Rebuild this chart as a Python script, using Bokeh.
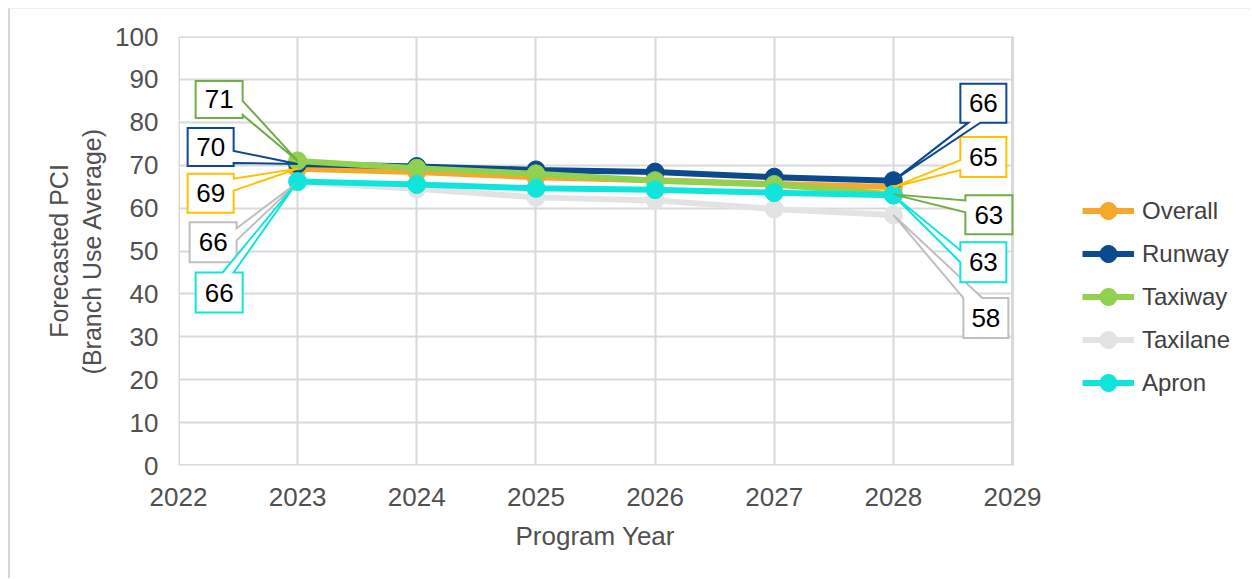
from bokeh.plotting import figure
from bokeh.models import Legend, LegendItem, Range1d, FixedTicker, Title
from bokeh.embed import file_html
from bokeh.resources import INLINE
from bokeh.core.properties import value

# ---------------- data ----------------
years = [2023, 2024, 2025, 2026, 2027, 2028]
overall = [69.2, 68.4, 67.2, 66.5, 65.6, 64.9]
runway = [70.3, 69.7, 68.9, 68.4, 67.2, 66.4]
taxiway = [71.0, 69.3, 68.0, 66.4, 65.5, 63.2]
taxilane = [66.0, 64.5, 62.5, 61.8, 59.8, 58.4]
apron = [66.2, 65.5, 64.6, 64.3, 63.6, 63.0]

series_names = ["Overall", "Runway", "Taxiway", "Taxilane", "Apron"]
series_values = [overall, runway, taxiway, taxilane, apron]
x_ticks = [2022, 2023, 2024, 2025, 2026, 2027, 2028, 2029]
y_ticks = [0, 10, 20, 30, 40, 50, 60, 70, 80, 90, 100]
x_title = "Program Year"
y_title = "Forecasted PCI\n(Branch Use Average)"

# ---------------- styles ----------------
line_colors = ["#F5A82B", "#0B4A8E", "#92D050", "#E3E3E3", "#10E5DC"]
label_colors = ["#FFC000", "#0B4A8E", "#70AD47", "#BFBFBF", "#10E5DC"]
FONT = "Liberation Sans"
GRID = "#d9d9d9"

# callout geometry in screen px relative to the labelled point:
# (box x0, x1, y0, y1 ; wedge side ; wedge a, b)  -- screen y grows downward
first_callouts = {
    "Overall": (-110, -64, 5, 44, "right", 10, 22),
    "Runway": (-110, -64, -36, 2, "right", -13, -1),
    "Taxiway": (-102, -55, -80, -43, "right", -60, -46),
    "Taxilane": (-108, -61, 40, 80, "right", 46, 58),
    "Apron": (-102, -55, 91, 131, "top", -75, -64),
}
last_callouts = {
    "Overall": (67, 113, -50, -10, "left", -27, -17),
    "Runway": (67, 113, -97, -58, "bottom", 75, 87),
    "Taxiway": (72, 119, 1, 40, "left", 6, 18),
    "Taxilane": (70, 115, 83, 123, "top", 70, 89),
    "Apron": (67, 113, 47, 87, "left", 55, 67),
}

W, H = 1242, 570
ML, MT = 10, 9  # page offset of the canvas (margin + border)
PLOT_L, PLOT_R, PLOT_T, PLOT_B = 178, 1012, 36, 465   # chart plot area (page px)
FRAME_R = 1244                                         # drawing frame extends under legend
X0, X1, Y0, Y1 = x_ticks[0], x_ticks[-1], y_ticks[0], y_ticks[-1]
ppx = (PLOT_R - PLOT_L) / (X1 - X0)
ppy = (PLOT_B - PLOT_T) / (Y1 - Y0)
X_END = X1 + (FRAME_R - PLOT_R) / ppx

p = figure(
    width=W, height=H,
    output_backend="svg", toolbar_location=None,
    x_range=Range1d(X0, X_END), y_range=Range1d(Y0, Y1),
    min_border_left=PLOT_L - ML, min_border_right=ML + W - FRAME_R,
    min_border_top=PLOT_T - MT, min_border_bottom=579 - PLOT_B,
)
p.styles = {
    "margin-left": "8px", "margin-top": "8px",
    "border-left": "2px solid #d6d6d6", "border-top": "1px solid #efefef",
}
p.outline_line_color = None
p.background_fill_color = "white"
p.border_fill_color = "white"

p.xgrid.ticker = FixedTicker(ticks=x_ticks)
p.ygrid.ticker = FixedTicker(ticks=y_ticks)
for g in (p.xgrid, p.ygrid):
    g.grid_line_color = GRID
    g.grid_line_width = 2

p.xaxis.ticker = FixedTicker(ticks=x_ticks)
p.yaxis.ticker = FixedTicker(ticks=y_ticks)
for ax in (p.xaxis, p.yaxis):
    ax.axis_line_color = None
    ax.major_tick_line_color = None
    ax.minor_tick_line_color = None
    ax.major_tick_out = 0
    ax.major_tick_in = 0
    ax.major_label_text_font = FONT
    ax.major_label_text_font_size = "26px"
    ax.major_label_text_color = "#505050"
    ax.axis_label_text_font = FONT
    ax.axis_label_text_font_size = "25px"
    ax.axis_label_text_color = "#505050"
    ax.axis_label_text_font_style = "normal"
p.xaxis.major_label_standoff = 22
p.yaxis.major_label_standoff = 20
p.yaxis.axis_label = y_title
p.yaxis.axis_label_standoff = 6

# x-axis title centred under the plot area (not the wider drawing frame)
xt = Title(text=x_title, align="left", offset=(PLOT_L + PLOT_R) / 2 - PLOT_L - 80,
           text_font=FONT, text_font_size="26px", text_color="#505050",
           text_font_style="normal", standoff=21)
p.add_layout(xt, "below")

# mask the grid to the right of the plot area, then draw the plot-area border
p.quad(left=[X1 + 0.01], right=[X_END + 1], bottom=[Y0 - 5], top=[Y1 + 5],
       fill_color="white", line_color=None)
p.quad(left=[X0], right=[X1], bottom=[Y0], top=[Y1],
       fill_color=None, line_color=GRID, line_width=3)

items = []
for name, vals, lc in zip(series_names, series_values, line_colors):
    r1 = p.line(years, vals, line_color=lc, line_width=6)
    r2 = p.scatter(years, vals, size=18, fill_color=lc, line_color=lc)
    items.append(LegendItem(label=name, renderers=[r1, r2]))


def callout_polygon(tx, ty, spec):
    x0, x1, y0, y1, side, a, b = spec
    pts = [(x0, y0)]
    if side == "top":
        pts += [(a, y0), (0, 0), (b, y0)]
    pts.append((x1, y0))
    if side == "right":
        pts += [(x1, a), (0, 0), (x1, b)]
    pts.append((x1, y1))
    if side == "bottom":
        pts += [(b, y1), (0, 0), (a, y1)]
    pts.append((x0, y1))
    if side == "left":
        pts += [(x0, b), (0, 0), (x0, a)]
    xs = [tx + px / ppx for px, _ in pts]
    ys = [ty - py / ppy for _, py in pts]
    cx = tx + (x0 + x1) / 2 / ppx
    cy = ty - (y0 + y1) / 2 / ppy
    return xs, ys, cx, cy


pxs, pys, pcol, tx_, ty_, tt_ = [], [], [], [], [], []
for name, vals, lc in zip(series_names, series_values, label_colors):
    for idx, table in ((0, first_callouts), (len(years) - 1, last_callouts)):
        xs, ys, cx, cy = callout_polygon(years[idx], vals[idx], table[name])
        pxs.append(xs)
        pys.append(ys)
        pcol.append(lc)
        tx_.append(cx)
        ty_.append(cy)
        tt_.append(f"{vals[idx]:.0f}")

p.patches(pxs, pys, fill_color="white", line_color=pcol, line_width=2,
          line_join="miter")
p.text(tx_, ty_, text=tt_, text_font=value(FONT), text_font_size="26px",
       text_align="center", text_baseline="middle", text_color="black")

legend = Legend(items=items, location=(904, 61), orientation="vertical")
legend.label_text_font = FONT
legend.label_text_font_size = "24px"
legend.label_text_color = "#404040"
legend.glyph_width = 52
legend.glyph_height = 43
legend.label_height = 20
legend.label_standoff = 8
legend.spacing = 0
legend.padding = 0
legend.margin = 0
legend.border_line_color = None
legend.background_fill_alpha = 0
p.add_layout(legend, "center")

open("out.html", "w").write(file_html(p, INLINE))
